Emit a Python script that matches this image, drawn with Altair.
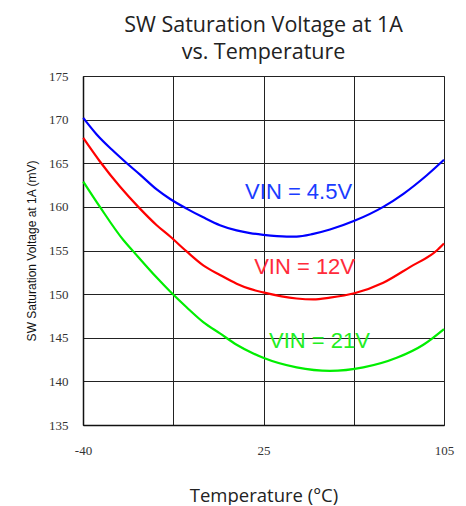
import altair as alt
import pandas as pd

# Temperature (°C) positions along the axis, and readings (mV) for each curve
blue_t = [-39.9, -34.5, -27.8, -22.4, -17.1, -10.4, -5.0, 1.6, 8.3, 15.0, 21.7, 27.1, 32.4, 41.8, 45.8, 52.5, 59.2, 69.0, 80.6, 88.7, 98.0, 105]
blue_v = [170.2, 168.3, 166.4, 165.0, 163.7, 162.0, 160.9, 159.8, 158.8, 157.9, 157.3, 157.0, 156.8, 156.6, 156.6, 156.9, 157.4, 158.4, 160.0, 161.5, 163.6, 165.4]

red_t = [-39.9, -33.2, -25.1, -17.8, -10.4, -5.0, 1.6, 8.3, 15.0, 21.7, 27.1, 32.4, 45.8, 52.5, 59.2, 69.0, 80.6, 91.3, 102.1, 105]
red_v = [167.9, 165.2, 162.3, 160.0, 157.9, 156.6, 154.9, 153.3, 152.2, 151.2, 150.6, 150.2, 149.5, 149.4, 149.6, 150.1, 151.3, 153.1, 155.0, 155.8]

green_t = [-39.9, -33.2, -23.8, -19.8, -10.4, -5.0, 1.6, 8.3, 15.0, 21.7, 28.4, 32.4, 45.8, 59.2, 72.6, 86.0, 96.7, 105]
green_v = [162.9, 160.0, 156.2, 154.9, 151.9, 150.3, 148.5, 146.8, 145.5, 144.2, 143.2, 142.7, 141.6, 141.2, 141.6, 142.7, 144.2, 146.0]

series_names = ["VIN = 4.5V", "VIN = 12V", "VIN = 21V"]
series_colors = ["#0000ff", "#ff0000", "#00ee00"]

label_t = [46.6, 49.0, 55.0]
label_v = [161.7, 153.1, 144.6]
label_colors = ["#1a3cff", "#ff2a3a", "#22ee22"]

grid_x = [-40, -3.75, 32.5, 68.75, 105]
y_ticks = [135, 140, 145, 150, 155, 160, 165, 170, 175]

rows = []
for name, ts, vs in zip(series_names, [blue_t, red_t, green_t], [blue_v, red_v, green_v]):
    for t, v in zip(ts, vs):
        rows.append({"series": name, "t": t, "v": v})
df = pd.DataFrame(rows)

lab = pd.DataFrame({"series": series_names, "t": label_t, "v": label_v, "c": label_colors})

x_scale = alt.Scale(domain=[-40, 105], nice=False, zero=False)
y_scale = alt.Scale(domain=[135, 175], nice=False, zero=False)

label_expr = "datum.value == -40 ? '-40' : (datum.value == 32.5 ? '25' : (datum.value == 105 ? '105' : ''))"

lines = alt.Chart(df).mark_line(strokeWidth=2.2, interpolate="monotone").encode(
    x=alt.X("t:Q", scale=x_scale,
            axis=alt.Axis(values=grid_x, labelExpr=label_expr, title="Temperature (°C)",
                          grid=True, gridColor="#222", gridWidth=1, gridOpacity=1,
                          ticks=False, domain=True, domainColor="#111", domainWidth=1.5,
                          labelFont="Liberation Serif", labelFontSize=13, labelColor="#333",
                          labelPadding=19, labelFlush=False,
                          titleFont="Open Sans", titleFontSize=18.5, titleFontWeight="normal",
                          titleColor="#222", titlePadding=29)),
    y=alt.Y("v:Q", scale=y_scale,
            axis=alt.Axis(values=y_ticks, title="SW Saturation Voltage at 1A (mV)",
                          grid=True, gridColor="#222", gridWidth=1, gridOpacity=1,
                          ticks=False, domain=True, domainColor="#111", domainWidth=1.5,
                          labelFont="Liberation Serif", labelFontSize=13, labelColor="#333",
                          labelPadding=15,
                          titleFont="Liberation Sans", titleFontSize=12, titleFontWeight="normal",
                          titleColor="#111", titlePadding=10)),
    color=alt.Color("series:N", scale=alt.Scale(domain=series_names, range=series_colors), legend=None),
    detail="series:N",
)

texts = alt.Chart(lab).mark_text(font="Liberation Sans", fontSize=22, align="center", baseline="middle").encode(
    x=alt.X("t:Q", scale=x_scale),
    y=alt.Y("v:Q", scale=y_scale),
    text="series:N",
    color=alt.Color("c:N", scale=None),
)

chart = alt.layer(lines, texts).properties(
    width=361, height=349,
    title=alt.TitleParams(["SW Saturation Voltage at 1A", "vs. Temperature"],
                          font="Open Sans", fontSize=21.5, fontWeight="normal", color="#222",
                          anchor="middle", offset=7, lineHeight=27),
    autosize="none",
    padding={"left": 75, "top": 68, "right": 14, "bottom": 80},
).configure_view(stroke="#888", strokeWidth=1)

chart.save("out.html", embed_options={"renderer": "svg", "actions": False})
